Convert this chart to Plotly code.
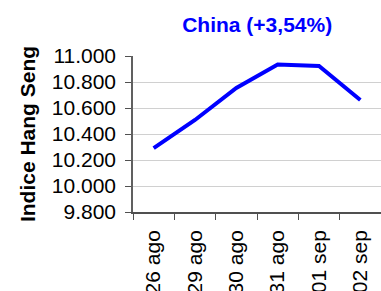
import plotly.graph_objects as go

categories = ["26 ago", "29 ago", "30 ago", "31 ago", "01 sep", "02 sep"]
values = [10292, 10508, 10754, 10935, 10923, 10662]
y_ticks = [9800, 10000, 10200, 10400, 10600, 10800, 11000]

FONT = "Liberation Sans, Arial, sans-serif"

fig = go.Figure(go.Scatter(
    x=categories, y=values, mode="lines",
    line=dict(color="#0000FF", width=4),
))

fig.update_layout(
    width=381, height=291,
    margin=dict(l=133, r=0, t=56, b=79),
    paper_bgcolor="white", plot_bgcolor="white",
    separators=",.",
    showlegend=False,
    font=dict(family=FONT, size=21, color="black"),
    title=dict(text="<b>China (+3,54%)</b>", x=0.675, xanchor="center",
               y=0.915, yanchor="middle",
               font=dict(family=FONT, size=21, color="#0000FF")),
)

fig.update_xaxes(
    type="category", tickangle=-90, tickson="boundaries",
    range=[-0.5, len(categories) - 0.5],
    ticks="outside", ticklen=6, tickcolor="#505050",
    showline=True, linecolor="#505050", linewidth=1.5,
    showgrid=False, automargin=False, ticklabelstandoff=8,
    tickfont=dict(family=FONT, size=21, color="black"),
)

fig.update_yaxes(
    range=[9800, 11000], tickvals=y_ticks, tickformat=",d",
    ticks="outside", ticklen=6, tickcolor="#505050",
    showline=True, linecolor="#606060", linewidth=1.5,
    showgrid=True, gridcolor="#D0D0D0", gridwidth=1,
    zeroline=False, automargin=False, ticklabelstandoff=5,
    tickfont=dict(family=FONT, size=21, color="black"),
    title=dict(text="<b>Indice Hang Seng</b>", standoff=10,
               font=dict(family=FONT, size=21, color="black")),
)

fig.write_html(
    "out.html",
    config={"displayModeBar": False},
    post_script="document.body.style.margin='0';document.body.style.overflow='hidden';",
)
